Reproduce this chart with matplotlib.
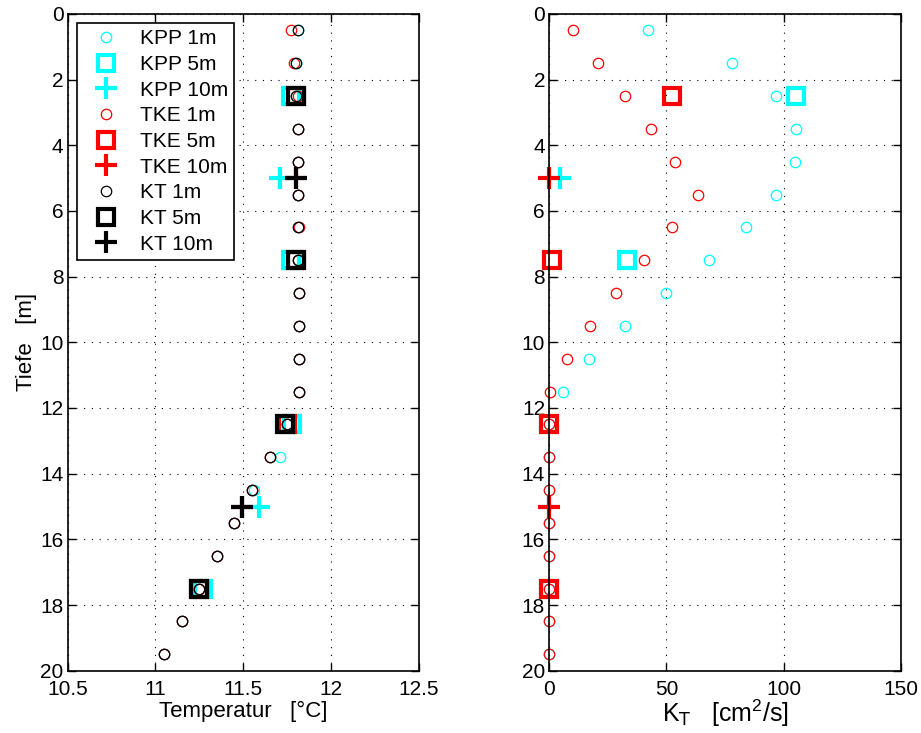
import numpy as np
import matplotlib
matplotlib.use('Agg')
import matplotlib.pyplot as plt

plt.rcParams['font.family'] = ['Liberation Sans', 'DejaVu Sans']
plt.rcParams['font.size'] = 15
plt.rcParams['mathtext.default'] = 'regular'

# depths [m]
depth_1m = [0.5, 1.5, 2.5, 3.5, 4.5, 5.5, 6.5, 7.5, 8.5, 9.5,
            10.5, 11.5, 12.5, 13.5, 14.5, 15.5, 16.5, 17.5, 18.5, 19.5]
depth_5m = [2.5, 7.5, 12.5, 17.5]
depth_10m = [5, 15]

# temperature [degC]
temp_kpp_1m = [11.81, 11.80, 11.80, 11.81, 11.81, 11.81, 11.81, 11.81, 11.82, 11.82,
               11.82, 11.82, 11.75, 11.71, 11.56, 11.45, 11.35, 11.25, 11.15, 11.05]
temp_tke_1m = [11.77, 11.79, 11.81, 11.81, 11.81, 11.81, 11.82, 11.81, 11.82, 11.82,
               11.82, 11.82, 11.75, 11.65, 11.55, 11.45, 11.35, 11.25, 11.15, 11.05]
temp_kt_1m = [11.81, 11.80, 11.80, 11.81, 11.81, 11.81, 11.81, 11.81, 11.815, 11.815,
              11.815, 11.815, 11.75, 11.65, 11.55, 11.45, 11.35, 11.25, 11.15, 11.05]
temp_kpp_5m = [11.77, 11.77, 11.78, 11.27]
temp_tke_5m = [11.80, 11.80, 11.75, 11.25]
temp_kt_5m = [11.80, 11.80, 11.74, 11.25]
temp_kpp_10m = [11.71, 11.59]
temp_tke_10m = [11.80, 11.49]
temp_kt_10m = [11.80, 11.49]

# diffusivity K_T [cm^2/s]
kt_kpp_1m = [42, 78, 97, 105.5, 105, 97, 84, 68, 50, 32.5,
             17, 5.7, 0, 0, 0, 0, 0, 0, 0, 0]
kt_tke_1m = [10, 21, 32.3, 43.5, 53.6, 63.3, 52.6, 40.4, 28.6, 17.4,
             7.7, 0.2, 0, 0, 0, 0, 0, 0, 0, 0]
kt_kpp_5m = [105.3, 33, 0, 0]
kt_tke_5m = [52.6, 1, 0, 0]
kt_kpp_10m = [4.6, 0]
kt_tke_10m = [0, 0]

fig = plt.figure(figsize=(9.21, 7.33), dpi=100)
ax1 = fig.add_axes([0.0734, 0.085, 0.3815, 0.896])
ax2 = fig.add_axes([0.5964, 0.085, 0.3815, 0.896])

circ = dict(linestyle='none', marker='o', markersize=7.5, markerfacecolor='none', markeredgewidth=0.9)
sq = dict(linestyle='none', marker='s', markersize=12, markerfacecolor='none', markeredgewidth=3)
cross = dict(linestyle='none', marker='+', markersize=16, markeredgewidth=3)

ax1.plot(temp_kpp_1m, depth_1m, color='cyan', label='KPP 1m', **circ)
ax1.plot(temp_kpp_5m, depth_5m, color='cyan', label='KPP 5m', **sq)
ax1.plot(temp_kpp_10m, depth_10m, color='cyan', label='KPP 10m', **cross)
ax1.plot(temp_tke_1m, depth_1m, color='red', label='TKE 1m', **circ)
ax1.plot(temp_tke_5m, depth_5m, color='red', label='TKE 5m', **sq)
ax1.plot(temp_tke_10m, depth_10m, color='red', label='TKE 10m', **cross)
ax1.plot(temp_kt_1m, depth_1m, color='black', label='KT 1m', **circ)
ax1.plot(temp_kt_5m, depth_5m, color='black', label='KT 5m', **sq)
ax1.plot(temp_kt_10m, depth_10m, color='black', label='KT 10m', **cross)

ax2.plot(kt_kpp_1m, depth_1m, color='cyan', **circ)
ax2.plot(kt_kpp_5m, depth_5m, color='cyan', **sq)
ax2.plot(kt_kpp_10m, depth_10m, color='cyan', **cross)
ax2.plot(kt_tke_1m, depth_1m, color='red', **circ)
ax2.plot(kt_tke_5m, depth_5m, color='red', **sq)
ax2.plot(kt_tke_10m, depth_10m, color='red', **cross)

for ax in (ax1, ax2):
    ax.set_ylim(20, 0)
    ax.set_yticks(np.arange(0, 21, 2))
    ax.grid(True, linestyle=(0, (1, 6)), color='black', linewidth=0.8)
    ax.tick_params(direction='in', top=True, right=True, length=6, width=1, labelsize=15)
    ax.tick_params(axis='x', pad=7)
    ax.tick_params(axis='y', pad=3)
    for s in ax.spines.values():
        s.set_linewidth(1.2)
    for m in ax.lines:
        m.set_clip_on(False)

ax1.set_xlim(10.5, 12.5)
ax1.set_xticks([10.5, 11, 11.5, 12, 12.5])
ax1.set_xticklabels(['10.5', '11', '11.5', '12', '12.5'])
ax1.set_xlabel('Temperatur   [°C]', fontsize=16, labelpad=1)
ax1.set_ylabel('Tiefe   [m]', fontsize=16, labelpad=2)

ax2.set_xlim(0, 150)
ax2.set_xticks([0, 50, 100, 150])
ax2.set_xlabel(r'K$_{\mathsf{T}}$   [cm$^2$/s]', fontsize=18, labelpad=-1)

leg = ax1.legend(loc='upper left', bbox_to_anchor=(0.027, 0.986), fontsize=15, numpoints=1,
                 fancybox=False, framealpha=1, edgecolor='black', borderpad=0.3,
                 labelspacing=0.32, handletextpad=0.5, handlelength=2.2, borderaxespad=0)
leg.get_frame().set_linewidth(1.2)

fig.savefig('out.png', dpi=100)
